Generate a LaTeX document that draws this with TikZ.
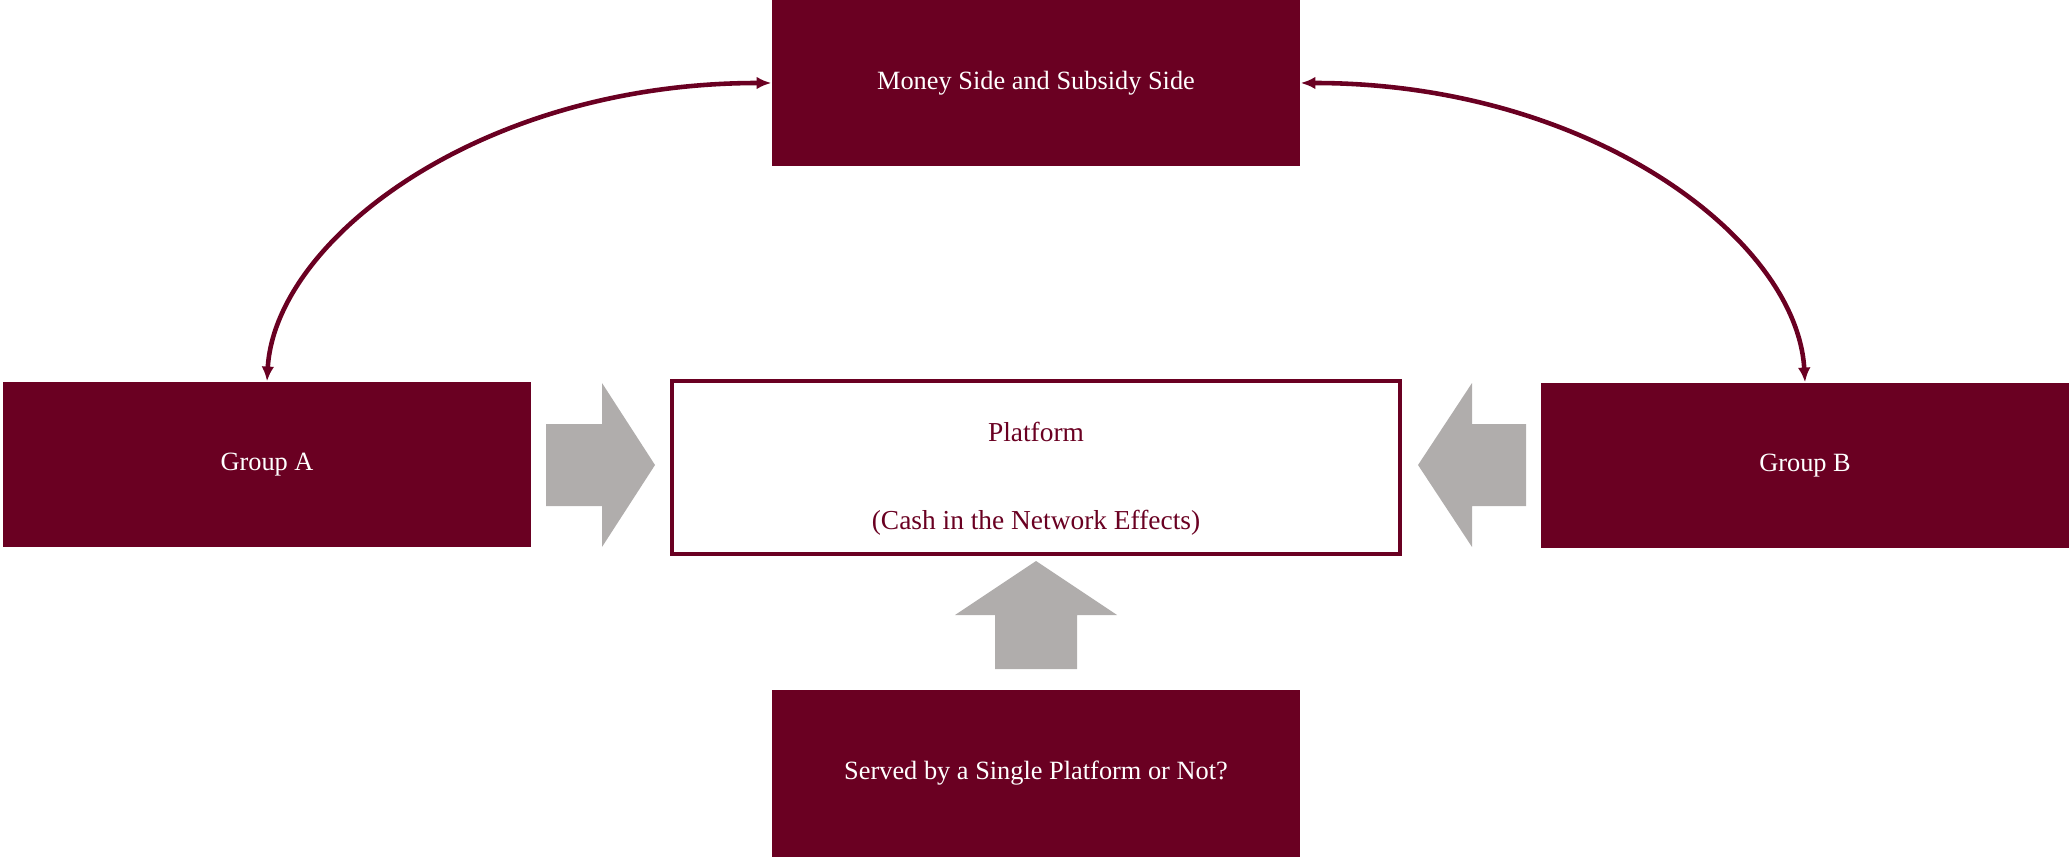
\documentclass[tikz,border=0pt]{standalone}
\usepackage{fontspec}
\setmainfont{Liberation Serif}
\usetikzlibrary{arrows.meta}
\definecolor{maroon}{RGB}{106,0,34}
\definecolor{arrowgray}{RGB}{176,173,172}

\begin{document}
\begin{tikzpicture}[x=0.1mm,y=-0.1mm,
    darkbox/.style={rectangle,fill=maroon,text=white,inner sep=0pt,
      minimum width=52.8mm,minimum height=16.6mm,font=\fontsize{7.5}{9}\selectfont},
    platbox/.style={rectangle,draw=maroon,line width=1.25pt,fill=white,
      minimum width=72.8mm,minimum height=17.3mm},
    platlabel/.style={text=maroon,inner sep=0pt,font=\fontsize{7.8}{9}\selectfont},
    bigarrow/.style={fill=arrowgray},
    link/.style={maroon,line width=1.3pt,
      {Latex[length=4.2pt,width=3.6pt]}-{Latex[length=4.2pt,width=3.6pt]}}]
    \useasboundingbox (0,0) rectangle (2069,857);
    \node[darkbox] (money) at (1036,83) {Money Side and Subsidy Side};
    \node[darkbox,minimum height=16.5mm] (groupA) at (267,464.5) {Group A};
    \node[darkbox,minimum height=16.5mm] (groupB) at (1805,465.5) {Group B};
    \node[darkbox,minimum height=16.7mm] (served) at (1036,773.5) {Served by a Single Platform or Not?};
    \node[platbox] (platform) at (1036,467.5) {};
    \node[platlabel] (title) at (1036,432) {Platform};
    \node[platlabel] (subtitle) at (1036,523) {(Cash in the Network Effects)};
    % block arrows into the platform
    \fill[bigarrow] (546,424) -- (602,424) -- (602,383) -- (655,465)
      -- (602,547) -- (602,506) -- (546,506) -- cycle;
    \fill[bigarrow] (1526,424) -- (1472,424) -- (1472,383) -- (1418,465)
      -- (1472,547) -- (1472,506) -- (1526,506) -- cycle;
    \fill[bigarrow] (995,669) -- (995,615) -- (955,615) -- (1036,561)
      -- (1117,615) -- (1077,615) -- (1077,669) -- cycle;
    % money side links
    \draw[link] (groupA.north) .. controls (275,240) and (480,83) .. (money.west);
    \draw[link] (money.east) .. controls (1592,83) and (1797,240) .. (groupB.north);
\end{tikzpicture}
\end{document}
